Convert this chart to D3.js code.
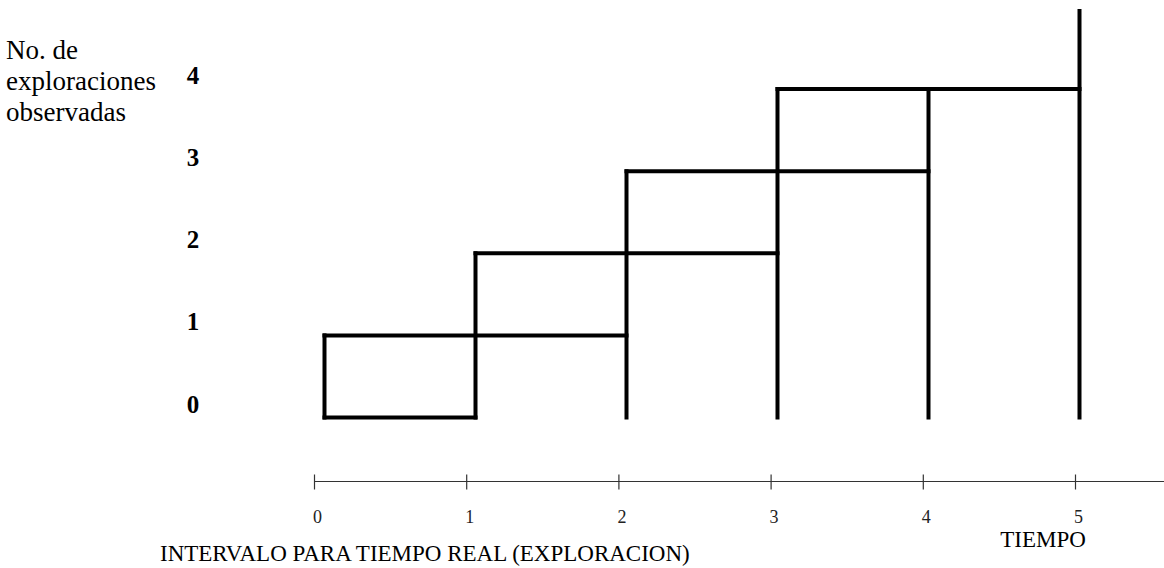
<!DOCTYPE html>
<html>
<head>
<meta charset="utf-8">
<script src="https://cdn.jsdelivr.net/npm/d3@7"></script>
<style>
  body { margin: 0; background: #fff; }
  svg { display: block; font-family: "Liberation Serif", "Times New Roman", serif; }
</style>
</head>
<body>
<svg id="chart" width="1164" height="568"></svg>
<script>
// ---- data ----
const timeTicks = [0, 1, 2, 3, 4, 5];
const timeTickLabels = ["0", "1", "2", "3", "4", "5"];
const countLevels = [0, 1, 2, 3, 4];
const countLabels = ["0", "1", "2", "3", "4"];
// horizontal step segments: level, start time, end time
const hLevel = [0, 1, 2, 3, 4];
const hStart = [0, 0, 1, 2, 3];
const hEnd   = [1, 2, 3, 4, 5];
// vertical step segments: time, bottom level, top level
const vTime   = [0, 1, 2, 3, 4, 5];
const vBottom = [0, 0, 0, 0, 0, 0];
const vTop    = [1, 2, 3, 4, 4, 4.95];
const yTitle = ["No. de", "exploraciones", "observadas"];
const xTitle = "INTERVALO PARA TIEMPO REAL (EXPLORACION)";
const timeTitle = "TIEMPO";

// ---- scales ----
const svg = d3.select("#chart");
const xStep = d3.scaleLinear().domain([0, 5]).range([324.5, 1079.5]);
const y = d3.scaleLinear().domain([0, 4]).range([417.5, 89]);
const xAxisScale = d3.scaleLinear().domain([0, 5]).range([314.5, 1075.5]);

// ---- step diagram ----
const g = svg.append("g").attr("stroke", "#000").attr("stroke-width", 4).attr("fill", "none");
g.selectAll("line.h").data(hLevel.map((l, i) => ({ l, s: hStart[i], e: hEnd[i] })))
  .join("line").attr("class", "h")
  .attr("x1", d => xStep(d.s) - 2).attr("x2", d => xStep(d.e) + 2)
  .attr("y1", d => y(d.l)).attr("y2", d => y(d.l));
g.selectAll("line.v").data(vTime.map((t, i) => ({ t, b: vBottom[i], top: vTop[i] })))
  .join("line").attr("class", "v")
  .attr("x1", d => xStep(d.t)).attr("x2", d => xStep(d.t))
  .attr("y1", d => y(d.b) + 2).attr("y2", d => y(d.top) - 2);

// ---- y labels ----
svg.selectAll("text.ylab").data(countLevels)
  .join("text").attr("class", "ylab")
  .attr("x", 193).attr("y", d => y(d) - 5)
  .attr("text-anchor", "middle").attr("font-weight", "bold").attr("font-size", 25)
  .text((d, i) => countLabels[i]);

svg.append("text").attr("font-size", 27).selectAll("tspan").data(yTitle)
  .join("tspan").attr("x", 6).attr("y", (d, i) => 59 + i * 31).text(d => d);

// ---- time axis ----
const axisY = 481.5;
const axis = d3.axisBottom(xAxisScale).tickValues(timeTicks).tickSize(0).tickFormat("");
const ag = svg.append("g").attr("transform", `translate(0,${axisY})`).call(axis);
ag.select(".domain").remove();
ag.append("line").attr("x1", xAxisScale(0)).attr("x2", 1164).attr("y1", 0).attr("y2", 0)
  .attr("stroke", "#333").attr("stroke-width", 1.2);
ag.selectAll(".tickmark").data(timeTicks).join("line").attr("class", "tickmark")
  .attr("x1", d => xAxisScale(d)).attr("x2", d => xAxisScale(d))
  .attr("y1", -7).attr("y2", 8).attr("stroke", "#333").attr("stroke-width", 1.2);
svg.selectAll("text.xlab").data(timeTicks)
  .join("text").attr("class", "xlab")
  .attr("x", d => xAxisScale(d) + 3).attr("y", 523)
  .attr("text-anchor", "middle").attr("font-size", 18).attr("fill", "#222")
  .text((d, i) => timeTickLabels[i]);

svg.append("text").attr("x", 1043).attr("y", 547).attr("text-anchor", "middle")
  .attr("font-size", 23).text(timeTitle);
svg.append("text").attr("x", 160).attr("y", 561).attr("font-size", 23).text(xTitle);
</script>
</body>
</html>
